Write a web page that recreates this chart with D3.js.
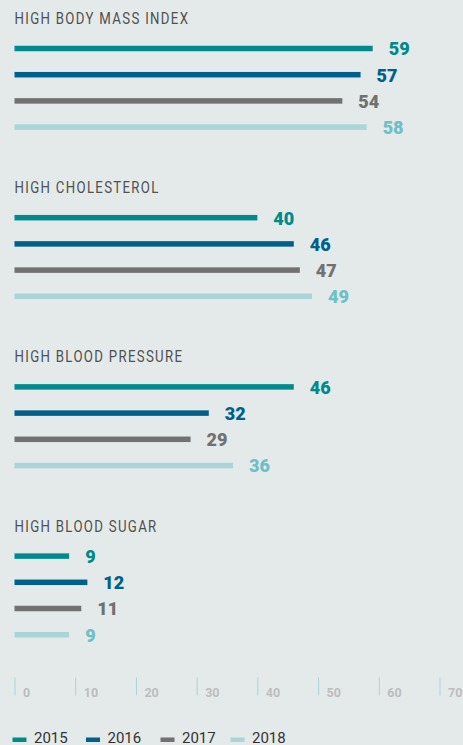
<!DOCTYPE html>
<html>
<head>
<meta charset="utf-8">
<script src="https://cdn.jsdelivr.net/npm/d3@7"></script>
<style>
  html, body { margin: 0; padding: 0; background: #e4eaea; }
  svg { display: block; }
  .title { font-family: "Roboto", sans-serif; font-size: 16px; font-weight: 400; fill: #505050; letter-spacing: 1.6px; }
  .value { font-family: "Roboto", sans-serif; font-size: 19px; font-weight: 900; }
  .tick text { font-family: "Roboto", sans-serif; font-size: 12.5px; font-weight: bold; fill: #bdbdbd; }
  .legend text { font-family: "Roboto", sans-serif; font-size: 15px; fill: #333; }
</style>
</head>
<body>
<svg id="chart" width="463" height="745"></svg>
<script>
// Risk factors and share of respondents (%) per survey year
const categories = ["HIGH BODY MASS INDEX", "HIGH CHOLESTEROL", "HIGH BLOOD PRESSURE", "HIGH BLOOD SUGAR"];
const years = ["2015", "2016", "2017", "2018"];
const values2015 = [59, 40, 46, 9];
const values2016 = [57, 46, 32, 12];
const values2017 = [54, 47, 29, 11];
const values2018 = [58, 49, 36, 9];
const tickValues = [0, 10, 20, 30, 40, 50, 60, 70];

const barColors = { "2015": "#008a8c", "2016": "#005f8b", "2017": "#717171", "2018": "#a9d5d8" };
const labelColors = { "2015": "#008a8c", "2016": "#005f8b", "2017": "#717171", "2018": "#6fc0c6" };

const seriesByYear = { "2015": values2015, "2016": values2016, "2017": values2017, "2018": values2018 };
const rows = categories.map((c, i) => ({
  category: c,
  bars: years.map(y => ({ year: y, value: seriesByYear[y][i] }))
}));

const svg = d3.select("#chart");

const x = d3.scaleLinear().domain([0, 70]).range([14.5, 439.5]);

// Each group: title baseline, then four bars below it
const group = d3.scaleBand().domain(categories).range([24, 24 + 4 * 169.2]);
const inner = d3.scalePoint().domain(years).range([24.5, 24.5 + 3 * 26.2]);
const barH = 5.5;

const g = svg.selectAll("g.group")
  .data(rows)
  .join("g")
  .attr("class", "group")
  .attr("transform", d => `translate(0,${group(d.category)})`);

// Titles are set in a condensed look: horizontally squeezed
const titles = g.append("g")
  .attr("transform", "translate(14.5,0)")
  .append("text")
  .attr("class", "title")
  .attr("x", 0)
  .attr("y", 0)
  .text(d => d.category);
const firstWidth = titles.node().getComputedTextLength();
const squeeze = 175 / firstWidth;
titles.attr("transform", `scale(${squeeze},1)`);

g.selectAll("rect")
  .data(d => d.bars)
  .join("rect")
  .attr("x", x(0))
  .attr("y", d => inner(d.year) - barH / 2)
  .attr("width", d => x(d.value) - x(0))
  .attr("height", barH)
  .attr("fill", d => barColors[d.year]);

g.selectAll("g.value")
  .data(d => d.bars)
  .join("g")
  .attr("class", "value")
  .attr("transform", d => `translate(${x(d.value) + 16},${inner(d.year)}) scale(0.95,1)`)
  .append("text")
  .attr("dy", "0.36em")
  .attr("fill", d => labelColors[d.year])
  .text(d => d.value);

// Axis
const axis = d3.axisBottom(x).tickValues(tickValues).tickSize(18).tickFormat(d3.format("d"));
const ax = svg.append("g")
  .attr("class", "axis")
  .attr("transform", "translate(0,677.5)")
  .call(axis);
ax.select(".domain").remove();
ax.selectAll(".tick line").attr("stroke", "#a9d4d8").attr("stroke-width", 1);
ax.selectAll(".tick text")
  .attr("x", 8)
  .attr("y", 14.5)
  .attr("dy", "0.36em")
  .attr("text-anchor", "start");

// Legend
const legendX = [12.5, 86, 160.5, 230.5];
const legend = svg.append("g").attr("class", "legend");
const li = legend.selectAll("g")
  .data(years)
  .join("g")
  .attr("transform", (d, i) => `translate(${legendX[i]},0)`);
li.append("rect")
  .attr("x", 0)
  .attr("y", 737.5)
  .attr("width", 14)
  .attr("height", 4.5)
  .attr("fill", d => barColors[d]);
li.append("text")
  .attr("x", 21.5)
  .attr("y", 742.5)
  .text(d => d);
</script>
</body>
</html>
